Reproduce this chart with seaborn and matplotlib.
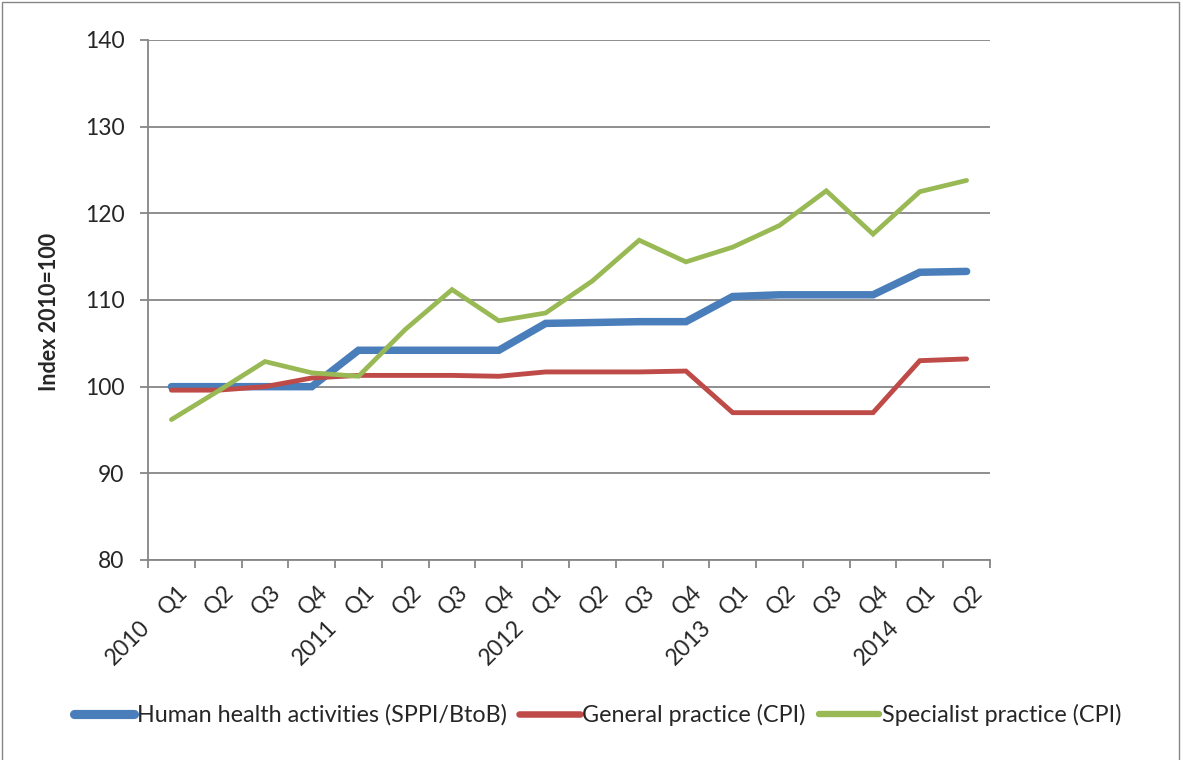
import matplotlib
matplotlib.use("Agg")
import matplotlib.pyplot as plt
import matplotlib.transforms as mtrans
from matplotlib.patches import Rectangle
import pandas as pd
import seaborn as sns

# ── Data ──────────────────────────────────────────────────────────────────────
years    = ["2010", "2011", "2012", "2013", "2014"]
quarters = ["Q1", "Q2", "Q3", "Q4"] * 4 + ["Q1", "Q2"]
periods  = [f"{years[i // 4]} {q}" for i, q in enumerate(quarters)]

human_health = [100.0, 100.0, 100.0, 100.0, 104.2, 104.2, 104.2, 104.2, 107.3,
                107.4, 107.5, 107.5, 110.4, 110.6, 110.6, 110.6, 113.2, 113.3]
general      = [99.6, 99.6, 100.0, 101.0, 101.3, 101.3, 101.3, 101.2, 101.7,
                101.7, 101.7, 101.8, 97.0, 97.0, 97.0, 97.0, 103.0, 103.2]
specialist   = [96.2, 99.5, 102.9, 101.6, 101.2, 106.6, 111.2, 107.6, 108.5,
                112.2, 116.9, 114.4, 116.1, 118.6, 122.6, 117.6, 122.5, 123.8]

series = {
    "Human health activities (SPPI/BtoB)": (human_health, "#4A7EBB", 5.4),
    "General practice (CPI)":              (general,      "#BE4B48", 3.5),
    "Specialist practice (CPI)":           (specialist,   "#98B954", 3.4),
}

# ── Style ─────────────────────────────────────────────────────────────────────
sns.set_theme(style="white")
plt.rcParams["font.family"] = ["Lato", "DejaVu Sans"]
GRID = "#868686"
FS = 16.5

fig = plt.figure(figsize=(11.83, 7.6), dpi=100)
ax = fig.add_axes([148 / 1183, 1 - 560 / 760, 842 / 1183, 520 / 760])

x = list(range(len(periods)))
for name, (vals, col, lw) in series.items():
    df = pd.DataFrame({"x": x, "value": vals})
    sns.lineplot(data=df, x="x", y="value", ax=ax, color=col, linewidth=lw,
                 label=name, solid_capstyle="round", solid_joinstyle="miter",
                 legend=False)

ax.set_xlim(-0.5, len(periods) - 0.5)
ax.set_ylim(80, 140)
ax.set_yticks(range(80, 141, 10))
ax.yaxis.grid(True, color=GRID, linewidth=1.3)
ax.set_axisbelow(True)
for s in ["top", "right"]:
    ax.spines[s].set_visible(False)
for s in ["left", "bottom"]:
    ax.spines[s].set_color(GRID)
    ax.spines[s].set_linewidth(1.3)
ax.tick_params(axis="y", which="major", left=True, length=6, width=1.3,
               color=GRID, labelsize=FS, pad=11)
ax.set_xlabel("")
ax.set_ylabel("")

# tick marks between categories, labels drawn by hand
ax.set_xticks([i - 0.5 for i in range(len(periods) + 1)], minor=True)
ax.set_xticks([])
ax.tick_params(axis="x", which="minor", bottom=True, length=6, width=1.3,
               color=GRID)

xtrans = ax.get_xaxis_transform()
for i, q in enumerate(quarters):
    t = mtrans.offset_copy(xtrans, fig=fig, x=5, y=-21, units="dots")
    ax.text(i, 0, q, transform=t, rotation=45, rotation_mode="anchor",
            ha="right", va="top", fontsize=FS)
for k, yr in enumerate(years):
    t = mtrans.offset_copy(xtrans, fig=fig, x=-32, y=-57, units="dots")
    ax.text(k * 4, 0, yr, transform=t, rotation=45, rotation_mode="anchor",
            ha="right", va="top", fontsize=FS)

fig.text(50 / 1183, 1 - 312 / 760, "Index 2010=100", rotation=90,
         ha="center", va="center", fontsize=15.5, fontweight="bold")

handles = [plt.Line2D([], [], color=c, linewidth=lw + 1.2, solid_capstyle="round")
           for _, c, lw in series.values()]
fig.legend(handles, list(series.keys()), loc="center",
           bbox_to_anchor=(0.505, 1 - 715 / 760), ncol=3, frameon=False,
           fontsize=16.8, handlelength=2.6, handletextpad=0.1,
           columnspacing=0.55)

fig.patches.append(Rectangle((0.002, -0.01), 0.995, 1.007,
                             transform=fig.transFigure, fill=False,
                             edgecolor=GRID, linewidth=1.0))

fig.savefig("out.png", dpi=100)
